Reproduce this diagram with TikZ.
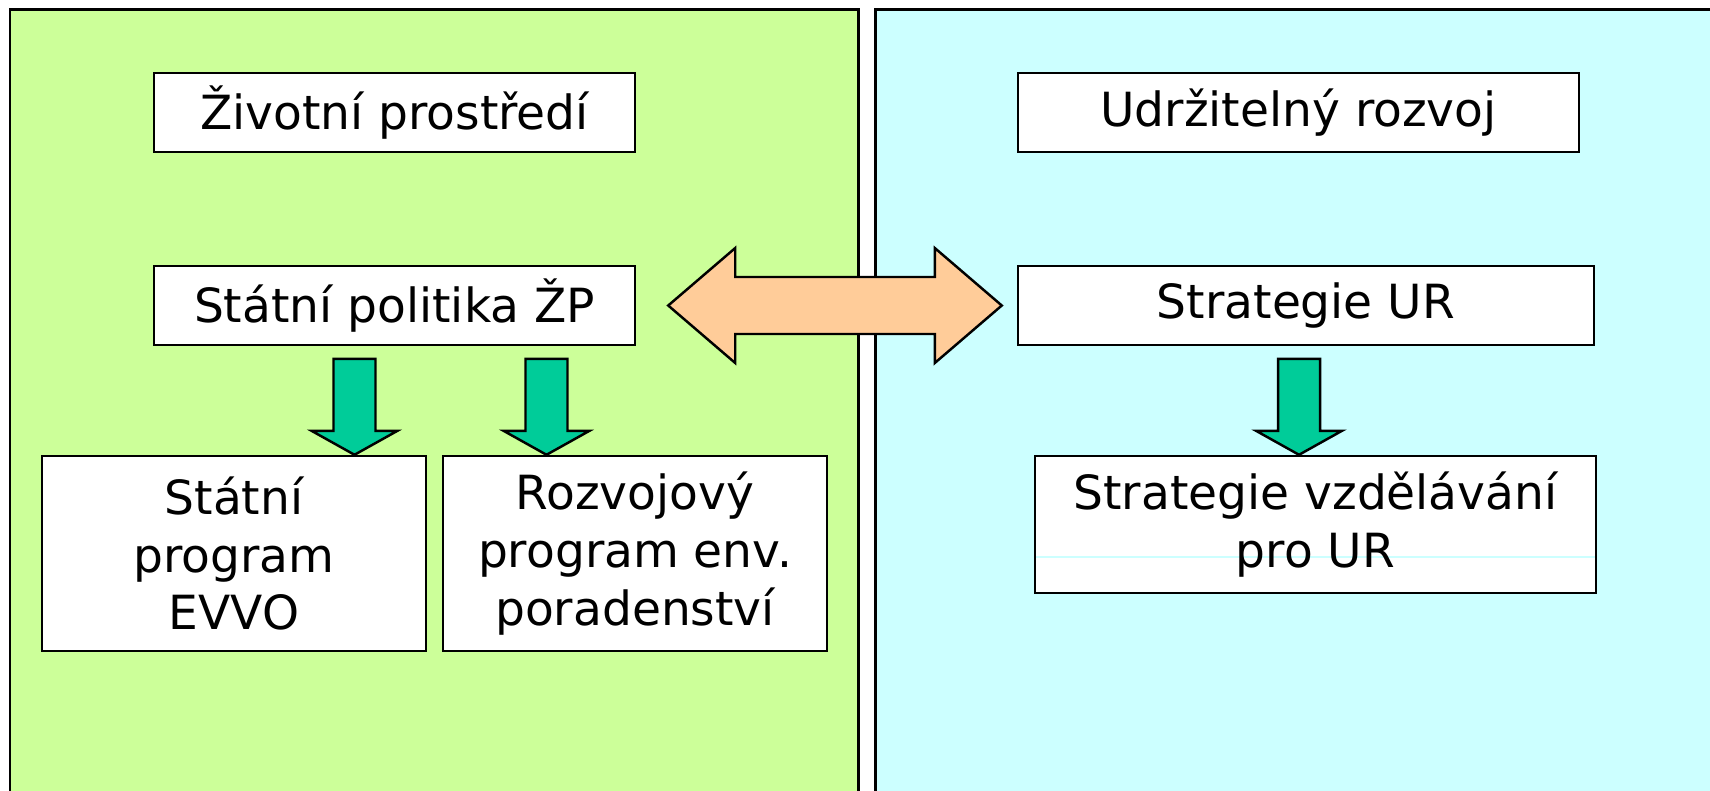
\documentclass[tikz,border=0pt]{standalone}
\usepackage{fontspec}
\setmainfont{DejaVu Sans}
\usetikzlibrary{calc}
\definecolor{leafgreen}{HTML}{CCFF99}
\definecolor{skycyan}{HTML}{CCFFFF}
\definecolor{peach}{HTML}{FFCC99}
\definecolor{seagreen}{HTML}{00CC99}
\def\greendown[#1](#2){\draw[#1] ($(#2)+(-0.21,-0.96)$) -- ($(#2)+(0.21,-0.96)$) -- ($(#2)+(0.21,-0.24)$) -- ($(#2)+(0.43,-0.24)$) -- (#2) -- ($(#2)+(-0.43,-0.24)$) -- ($(#2)+(-0.21,-0.24)$) -- cycle;}
\def\peachboth[#1](#2)(#3){\draw[#1] (#2) -- ($(#2)+(0.67,-0.575)$) -- ($(#2)+(0.67,-0.285)$) -- ($(#3)+(-0.67,-0.285)$) -- ($(#3)+(-0.67,-0.575)$) -- (#3) -- ($(#3)+(-0.67,0.575)$) -- ($(#3)+(-0.67,0.285)$) -- ($(#2)+(0.67,0.285)$) -- ($(#2)+(0.67,0.575)$) -- cycle;}

\begin{document}
\begin{tikzpicture}[x=1cm, y=-1cm,
		box/.style={draw, fill=white, line width=0.7pt, inner sep=0pt, align=center, font=\fontsize{13.4}{16.4}\selectfont},
		panel/.style={draw, line width=0.6pt},
		blockarrow/.style={draw, line width=0.7pt, line join=miter}]
			%%%%% START %%%%%
			
			\clip (0, 0) rectangle (17.1, 7.9);
			\fill[white] (0, 0) rectangle (17.1, 7.9);
			
			\draw[panel, fill=leafgreen] (0.10, 0.095) rectangle (8.585, 8.2);
			\draw[panel, fill=skycyan] (8.755, 0.095) rectangle (17.3, 8.2);
			
			\node[box, minimum width=4.81cm, minimum height=0.79cm] (prostredi) at (3.945, 1.125) {Životní prostředí};
			\node[box, minimum width=4.81cm, minimum height=0.79cm] (politika) at (3.945, 3.055) {Státní politika ŽP};
			\node[box, minimum width=3.84cm, minimum height=1.95cm] (evvo) at (2.34, 5.535) {Státní\\program\\EVVO};
			\node[box, minimum width=3.84cm, minimum height=1.95cm] (poradenstvi) at (6.35, 5.535) {Rozvojový\\program env.\\poradenství};
			
			\node[box, minimum width=5.61cm, minimum height=0.79cm] (rozvoj) at (12.985, 1.125) {Udržitelný rozvoj};
			\node[box, minimum width=5.76cm, minimum height=0.79cm] (strategie) at (13.06, 3.055) {Strategie UR};
			% faint line sits under the text, above the white fill
			\node[box, minimum width=5.61cm, minimum height=1.37cm,
				path picture={\draw[skycyan, line width=0.3pt] ($(path picture bounding box.west)+(0,0.325)$) -- ($(path picture bounding box.east)+(0,0.325)$);}]
				(vzdelavani) at (13.155, 5.245) {Strategie vzdělávání\\pro UR};
			
			\coordinate (tipA) at ($(evvo.north)+(1.205,0)$);
			\coordinate (tipB) at ($(poradenstvi.north)+(-0.885,0)$);
			\coordinate (tipC) at ($(vzdelavani.north)+(-0.165,0)$);
			\greendown[blockarrow, fill=seagreen](tipA);
			\greendown[blockarrow, fill=seagreen](tipB);
			\greendown[blockarrow, fill=seagreen](tipC);
			
			\coordinate (tipL) at ($(politika.east)+(0.32,0)$);
			\coordinate (tipR) at ($(strategie.west)+(-0.15,0)$);
			\peachboth[blockarrow, fill=peach](tipL)(tipR);
			
			%%%%% END %%%%%
\end{tikzpicture}
\end{document}
